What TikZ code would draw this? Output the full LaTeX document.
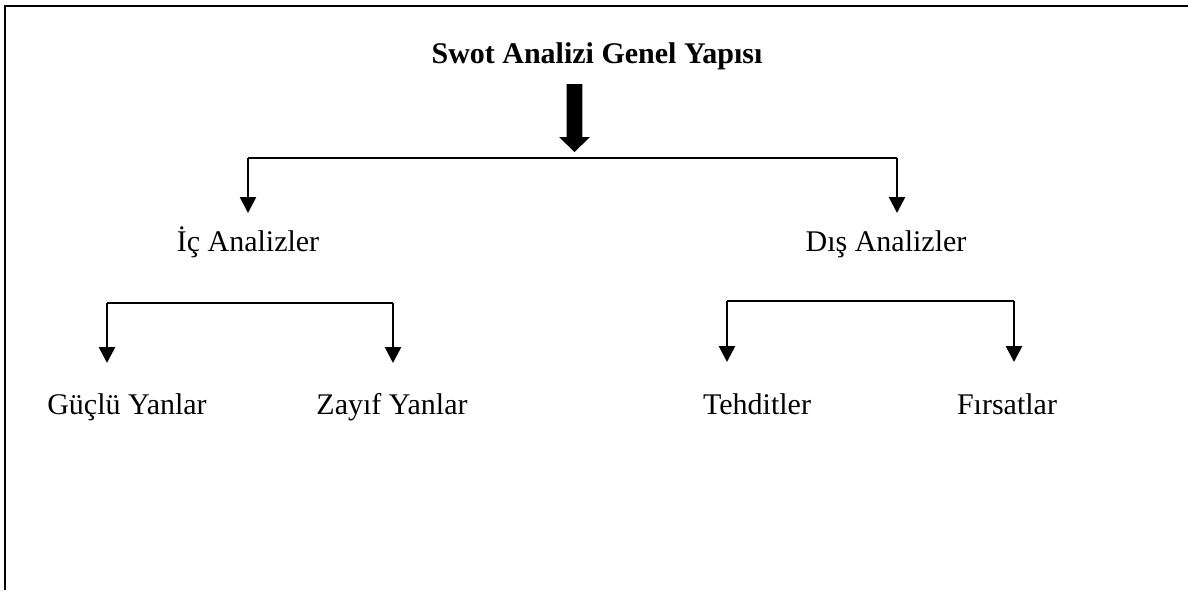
\documentclass[tikz,border=0pt]{standalone}
\usepackage{fontspec}
\setmainfont{Liberation Serif}
\usetikzlibrary{arrows.meta}
\begin{document}
\begin{tikzpicture}[x=1pt,y=-1pt,
  lbl/.style={inner sep=0pt, anchor=base, font=\fontsize{30}{36}\selectfont},
  ttl/.style={lbl, font=\fontsize{30}{36}\selectfont\bfseries},
  conn/.style={line width=2.6pt},
  arr/.style={conn, -{Triangle[width=16pt,length=16pt]}},
  frame/.style={line width=2.4pt}]
\useasboundingbox (0,0) rectangle (1188,590);
% frame (top and left sides only)
\draw[frame] (5,590) -- (5,6) -- (1188,6);
% title
\node[ttl] (title) at (597,63) {Swot Analizi Genel Yapısı};
% thick block arrow
\coordinate (top) at (574.5,84);
\coordinate (hub) at (574.5,158);
\fill (top) ++(-7.8,0) -- ++(0,53) -- ++(-7.7,0) -- ([yshift=6pt]hub)
      -- ++(15.5,-15) -- ++(-7.7,0) -- ++(0,-53) -- cycle;
% level 1
\coordinate (L1) at (248,158);
\coordinate (R1) at (897,158);
\draw[conn] (L1) -- (R1);
\node[lbl] (ic) at (248,251) {İç Analizler};
\node[lbl] (dis) at (886,251) {Dış Analizler};
\draw[arr] (L1) -- (248,213) coordinate (icTip);
\draw[arr] (R1) -- (897,213) coordinate (disTip);
% level 2 left
\coordinate (L2a) at (107,303);
\coordinate (L2b) at (393,303);
\draw[conn] (L2a) -- (L2b);
\draw[arr] (L2a) -- (107,363) coordinate (gTip);
\draw[arr] (L2b) -- (393,363) coordinate (zTip);
\node[lbl] (guclu) at (127,414) {Güçlü Yanlar};
\node[lbl] (zayif) at (392,414) {Zayıf Yanlar};
% level 2 right
\coordinate (R2a) at (727,301);
\coordinate (R2b) at (1014,301);
\draw[conn] (R2a) -- (R2b);
\draw[arr] (R2a) -- (727,362) coordinate (tTip);
\draw[arr] (R2b) -- (1014,362) coordinate (fTip);
\node[lbl] (tehdit) at (757,414) {Tehditler};
\node[lbl] (firsat) at (1007,414) {Fırsatlar};
\end{tikzpicture}
\end{document}
